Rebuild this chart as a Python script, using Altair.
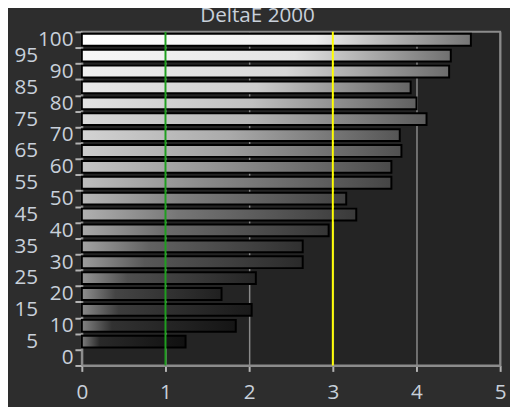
import altair as alt
import pandas as pd

# ---- data ----
levels = [100, 95, 90, 85, 80, 75, 70, 65, 60, 55, 50, 45, 40, 35, 30, 25, 20, 15, 10, 5, 0]
delta_e = [4.65, 4.41, 4.39, 3.93, 4.00, 4.12, 3.80, 3.82, 3.70, 3.70, 3.16, 3.28, 2.95, 2.64, 2.64, 2.08, 1.67, 2.03, 1.84, 1.24, 0.0]
x_ticks = [0, 1, 2, 3, 4, 5]
thresholds = [1, 3]
title_text = "DeltaE 2000"

df = pd.DataFrame({"level": levels, "de": delta_e})

threshold_colors = ["#1f9e1f", "#ffff00"]
label_color = "#c8d0da"
font = "Open Sans"


def gray(v):
    h = int(round(max(0.0, min(1.0, v)) * 255))
    return f"#{h:02x}{h:02x}{h:02x}"


def gradient_for(p):
    t = p / 100.0
    left = 0.47 + 0.53 * t ** 1.1
    right = 0.04 + 0.42 * t
    knee = 0.15 + 0.45 * t
    mid = right + (left - right) * (0.2 + 0.68 * t)
    return alt.Gradient(
        gradient="linear",
        stops=[
            alt.GradientStop(color=gray(left), offset=0),
            alt.GradientStop(color=gray(mid), offset=knee),
            alt.GradientStop(color=gray(right), offset=1),
        ],
    )


x_enc = alt.X(
    "de:Q",
    scale=alt.Scale(domain=[0, 5], nice=False, zero=True),
    axis=alt.Axis(
        values=x_ticks,
        format="d",
        title=None,
        grid=True,
        gridColor="#8a8a8a",
        gridWidth=1.5,
        tickSize=6,
        labelPadding=11,
        labelFlush=False,
    ),
)
y_enc = alt.Y(
    "level:O",
    scale=alt.Scale(domain=levels, paddingInner=0, paddingOuter=0),
    axis=alt.Axis(
        title=None,
        tickBand="extent",
        tickSize=7,
        labelPadding={"condition": {"test": "datum.value % 10 === 0", "value": 2}, "value": 38},
        labelBaseline="middle",
    ),
)

base = alt.Chart(df)
layers = []
for p, v in zip(levels, delta_e):
    if v <= 0:
        continue
    layers.append(
        base.transform_filter(alt.datum.level == p)
        .mark_bar(fill=gradient_for(p), stroke="#000000", strokeWidth=2, height=12)
        .encode(x=x_enc, y=y_enc)
    )

for t, c in zip(thresholds, threshold_colors):
    layers.append(
        alt.Chart(pd.DataFrame({"t": [t]}))
        .mark_rule(color=c, strokeWidth=2)
        .encode(x=alt.X("t:Q", scale=alt.Scale(domain=[0, 5], nice=False)))
    )

chart = (
    alt.layer(*layers)
    .properties(
        width=425,
        height=339,
        autosize=alt.AutoSizeParams(type="none"),
        padding={"left": 75, "top": 21, "right": 10, "bottom": 40},
        background="#2d2d2d",
        title=alt.TitleParams(
            title_text,
            font=font,
            fontSize=21,
            fontWeight="normal",
            color=label_color,
            anchor="middle",
            frame="group",
            dx=-34,
            dy=29,
            offset=7,
            baseline="alphabetic",
        ),
    )
    .configure_view(stroke="#8c8c8c", strokeWidth=2, fill="#242424")
    .configure_axis(
        domainColor="#8c8c8c",
        domainWidth=2,
        tickColor="#b4b4b4",
        tickWidth=2,
        labelFont=font,
        labelFontSize=21,
        labelColor=label_color,
    )
)

chart.save("out.html", embed_options={"renderer": "svg", "actions": False})
